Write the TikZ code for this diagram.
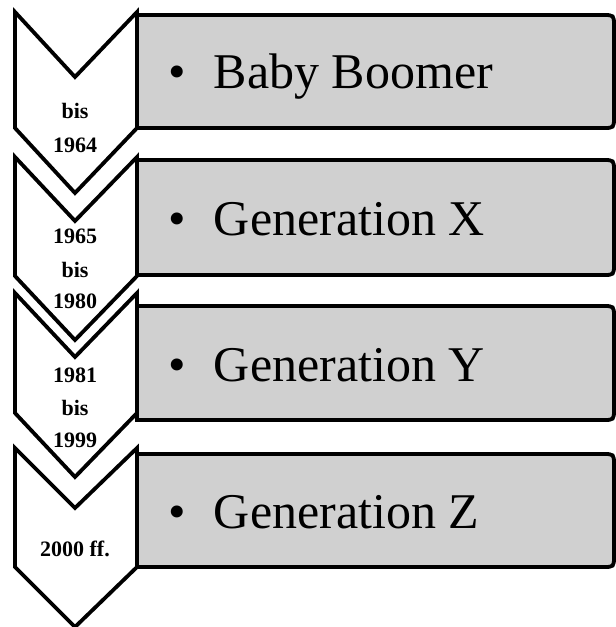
\documentclass[tikz,border=0pt]{standalone}
\usepackage{fontspec}
\setmainfont{Liberation Serif}
\definecolor{boxgray}{RGB}{208,208,208}
\begin{document}
\begin{tikzpicture}[x=1pt,y=-1pt, line width=3.8pt, line join=miter,
  chev/.style={draw=black, fill=white},
  genbox/.style={draw=black, fill=boxgray},
  yearlbl/.style={font=\fontsize{22}{22}\selectfont\bfseries, anchor=base, inner sep=0pt},
  genlbl/.style={font=\fontsize{50}{50}\selectfont, anchor=base west, inner sep=0pt},
  bul/.style={font=\fontsize{50}{50}\selectfont, anchor=base, inner sep=0pt}]
\useasboundingbox (0,0) rectangle (616,627);
% boxes
\foreach \t/\b in {15/128,160/275,306/420,454/567}{
  \draw[genbox] (137,\b) -- (137,\t) -- (603,\t) .. controls (614,\t) .. (614,\t+11)
     -- (614,\b-11) .. controls (614,\b) .. (603,\b) -- cycle;
}
% chevrons
\foreach \t/\b/\d in {12/128/65,157/276/64,293/413/64,448/567/60}{
  \draw[chev] (15,\t) -- (75,\t+\d) -- (137,\t) -- (137,\b) -- (75,\b+\d) -- (15,\b) -- cycle;
}
% generation labels
\node[bul] (b1) at (177,88) {•};
\node[genlbl] (g1) at (212,88) {Baby Boomer};
\node[bul] (b2) at (177,235) {•};
\node[genlbl] (g2) at (212,235) {Generation X};
\node[bul] (b3) at (177,381) {•};
\node[genlbl] (g3) at (212,381) {Generation Y};
\node[bul] (b4) at (177,528) {•};
\node[genlbl] (g4) at (212,528) {Generation Z};
% year labels
\node[yearlbl] (y1a) at (75,118) {bis};
\node[yearlbl] (y1b) at (75,152) {1964};
\node[yearlbl] (y2a) at (75,243) {1965};
\node[yearlbl] (y2b) at (75,277) {bis};
\node[yearlbl] (y2c) at (75,308) {1980};
\node[yearlbl] (y3a) at (75,382) {1981};
\node[yearlbl] (y3b) at (75,415) {bis};
\node[yearlbl] (y3c) at (75,447) {1999};
\node[yearlbl] (y4a) at (75,556) {2000 ff.};
\end{tikzpicture}
\end{document}
